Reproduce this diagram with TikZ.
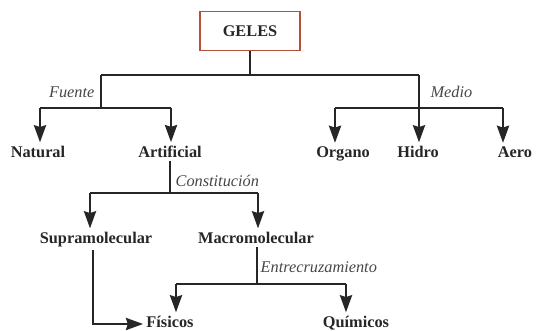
\documentclass[tikz,border=0pt]{standalone}
\usepackage{fontspec}
\setmainfont{Liberation Serif}
\usetikzlibrary{arrows.meta}
\definecolor{boxred}{HTML}{B4503A}
\definecolor{ink}{HTML}{262626}

\begin{document}
\begin{tikzpicture}[x=0.025cm,y=-0.025cm,line width=0.9pt,draw=ink,
  lbl/.style={font=\fontsize{11.6}{13}\selectfont\bfseries,text=ink,anchor=base,inner sep=2pt},
  tag/.style={font=\fontsize{11.6}{13}\selectfont\itshape,text=ink!85,inner sep=0pt},
  arr/.style={-{Stealth[length=4.3mm,width=3.1mm,inset=0.5mm]}}]
\useasboundingbox (0,0) rectangle (544,330);
\node[draw=boxred,line width=1.3pt,fill=white,minimum width=2.5cm,minimum height=0.975cm,font=\fontsize{11.6}{13}\selectfont\bfseries,text=ink] (geles) at (250,31) {GELES};
\node[lbl] (natural) at (38,157) {Natural};
\node[lbl] (artificial) at (170,157) {Artificial};
\node[lbl] (organo) at (343,157) {Organo};
\node[lbl] (hidro) at (418,157) {Hidro};
\node[lbl] (aero) at (515,157) {Aero};
\node[lbl] (supra) at (96,243) {Supramolecular};
\node[lbl] (macro) at (256,243) {Macromolecular};
\node[lbl] (fisicos) at (170,327) {Físicos};
\node[lbl] (quimicos) at (356,327) {Químicos};
% branch points
\coordinate (j0) at (250,75);
\coordinate (jL) at (101,75);
\coordinate (jR) at (419,75);
\coordinate (jLL) at (40,108);
\coordinate (jLM) at (101,108);
\coordinate (jLR) at (171,108);
\coordinate (jRL) at (335,108);
\coordinate (jRR) at (503,108);
\coordinate (jA) at (170,193);
\coordinate (jAL) at (90,193);
\coordinate (jAR) at (258,193);
\coordinate (jM) at (257,284);
\coordinate (jML) at (176,284);
\coordinate (jMR) at (346,284);
\coordinate (sB) at (93,324);
% tree
\draw (geles) -- (j0);
\draw (jL) -- (jR);
\draw (jL) -- (jLM);
\draw (jLL) -- (jLR);
\draw[arr] (jLL) -- (jLL |- natural.north);
\draw[arr] (jLR) -- (jLR |- artificial.north);
\draw (jRL) -- (jRR);
\draw[arr] (jR) -- (jR |- hidro.north);
\draw[arr] (jRL) -- (jRL |- organo.north);
\draw[arr] (jRR) -- (jRR |- aero.north);
\draw (artificial.south -| jA) -- (jA);
\draw (jAL) -- (jAR);
\draw[arr] (jAL) -- (jAL |- supra.north);
\draw[arr] (jAR) -- (jAR |- macro.north);
\draw (macro.south -| jM) -- (jM);
\draw (jML) -- (jMR);
\draw[arr] (jML) -- (jML |- fisicos.north);
\draw[arr] (jMR) -- (jMR |- quimicos.north);
\draw[arr] (sB |- supra.south) -- (sB) -- (sB -| fisicos.west);
% branch names
\node[tag,anchor=base east] (fuente) at (95,97) {Fuente};
\node[tag,anchor=base west] (medio) at (430,97) {Medio};
\node[tag,anchor=base west] (constit) at (175,186) {Constitución};
\node[tag,anchor=base west] (entre) at (260,272) {Entrecruzamiento};
\end{tikzpicture}
\end{document}
